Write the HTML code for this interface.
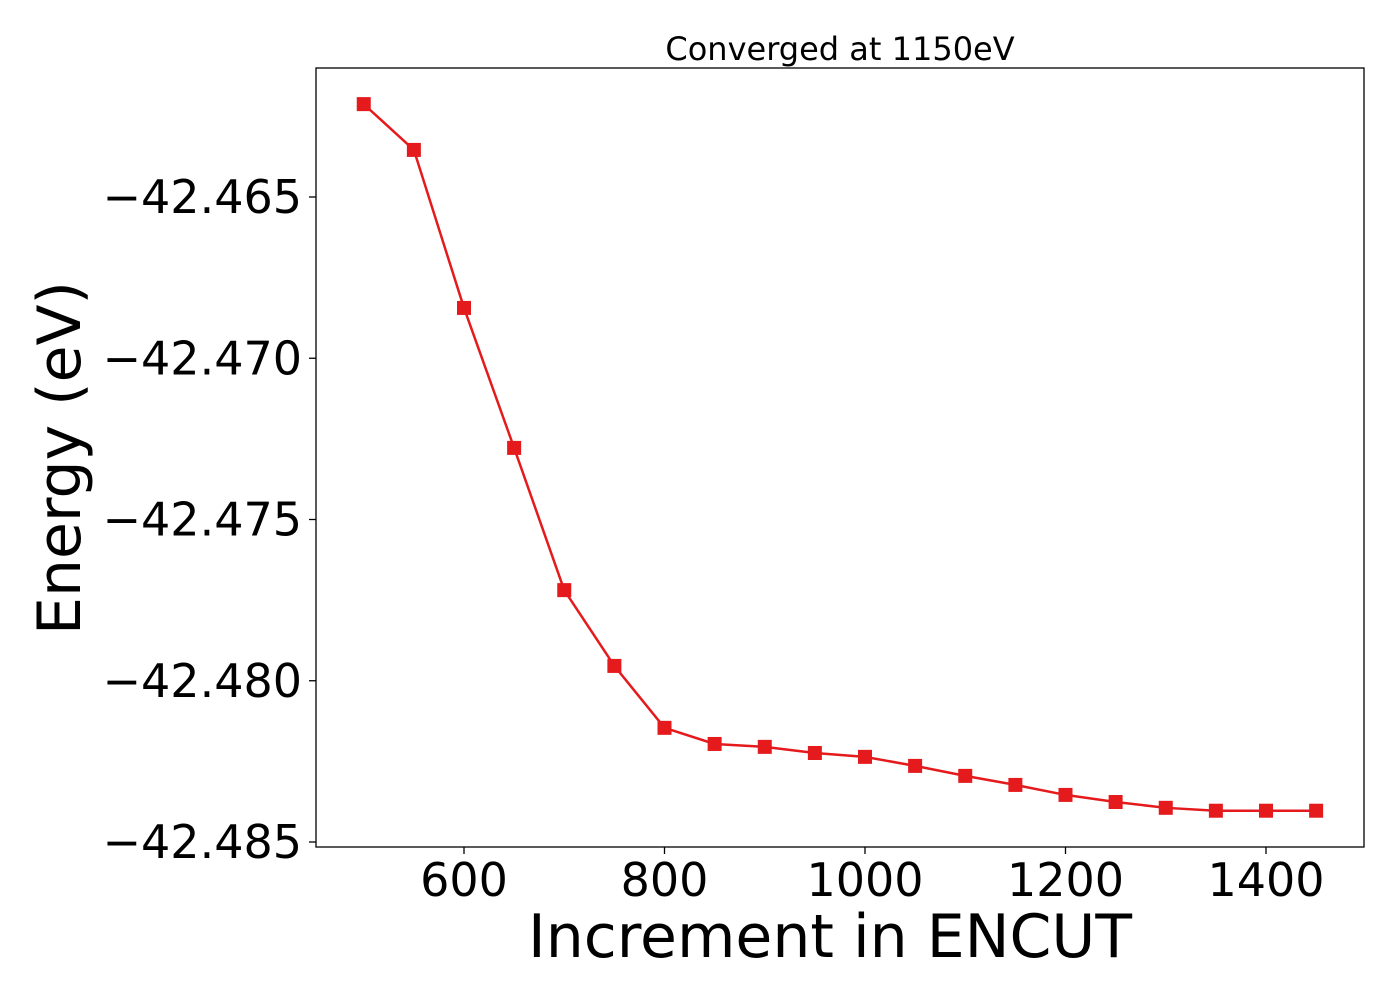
<!DOCTYPE html>
<html><head><meta charset="utf-8"><style>
html,body{margin:0;padding:0;background:#fff;}
svg{display:block;font-family:"DejaVu Sans","Liberation Sans",sans-serif;}
</style></head><body>
<svg id="chart" width="1400" height="1000" viewBox="0 0 1400 1000">
<rect width="1400" height="1000" fill="#fff"/>
<text x="840" y="60" font-size="32" text-anchor="middle">Converged at 1150eV</text>
<g id="xticks"></g><g id="yticks"></g>
<g id="series"></g>
<rect x="316" y="68" width="1048" height="779" fill="none" stroke="#000" stroke-width="1.3"/>
<text x="830" y="957" font-size="60" text-anchor="middle">Increment in ENCUT</text>
<text transform="translate(80,458) rotate(-90)" font-size="60" text-anchor="middle">Energy (eV)</text>
</svg>
<script>
const encut = [500,550,600,650,700,750,800,850,900,950,1000,1050,1100,1150,1200,1250,1300,1350,1400,1450];
const energy = [-42.46212,-42.46354,-42.46844,-42.47278,-42.47719,-42.47954,-42.48146,-42.48196,-42.48205,-42.48224,-42.48236,-42.48264,-42.48295,-42.48323,-42.48354,-42.48376,-42.48394,-42.48403,-42.48403,-42.48403];
const xTickValues = [600,800,1000,1200,1400];
const yTickValues = [-42.465,-42.470,-42.475,-42.480,-42.485];
const yTickLabels = ["\u221242.465","\u221242.470","\u221242.475","\u221242.480","\u221242.485"];

const NS = "http://www.w3.org/2000/svg";
function xs(v){ return 464 + (v-600)*(200.5/200); }
function ys(v){ return 197 + (-42.465 - v)/0.005*161.25; }
function mk(tag, attrs, parent){
  const e = document.createElementNS(NS, tag);
  for (const k in attrs) e.setAttribute(k, attrs[k]);
  parent.appendChild(e); return e;
}
const xg = document.getElementById('xticks');
xTickValues.forEach(v=>{
  const l = mk('line',{x1:xs(v),x2:xs(v),y1:847,y2:854,stroke:'#000','stroke-width':1.3},xg);
  
  
  const t = mk('text',{x:xs(v),y:896,'font-size':46,'text-anchor':'middle'},xg);
  t.textContent = v;
  
  
});
const yg = document.getElementById('yticks');
yTickValues.forEach((v,i)=>{
  const l = mk('line',{x1:309,x2:316,y1:ys(v),y2:ys(v),stroke:'#000','stroke-width':1.3},yg);
  
  
  const t = mk('text',{x:302,y:ys(v)+16,'font-size':46,'text-anchor':'end'},yg);
  t.textContent = yTickLabels[i];
  
  
});
const sg = document.getElementById('series');
const pts = encut.map((x,i)=>xs(x)+','+ys(energy[i])).join(' ');
const pl = mk('polyline',{points:pts,fill:'none',stroke:'#e41a1c','stroke-width':2.5},sg);


encut.forEach((x,i)=>{
  const r = mk('rect',{x:xs(x)-7,y:ys(energy[i])-7,width:14,height:14,fill:'#e41a1c'},sg);
  
  
});
</script>
</body></html>
